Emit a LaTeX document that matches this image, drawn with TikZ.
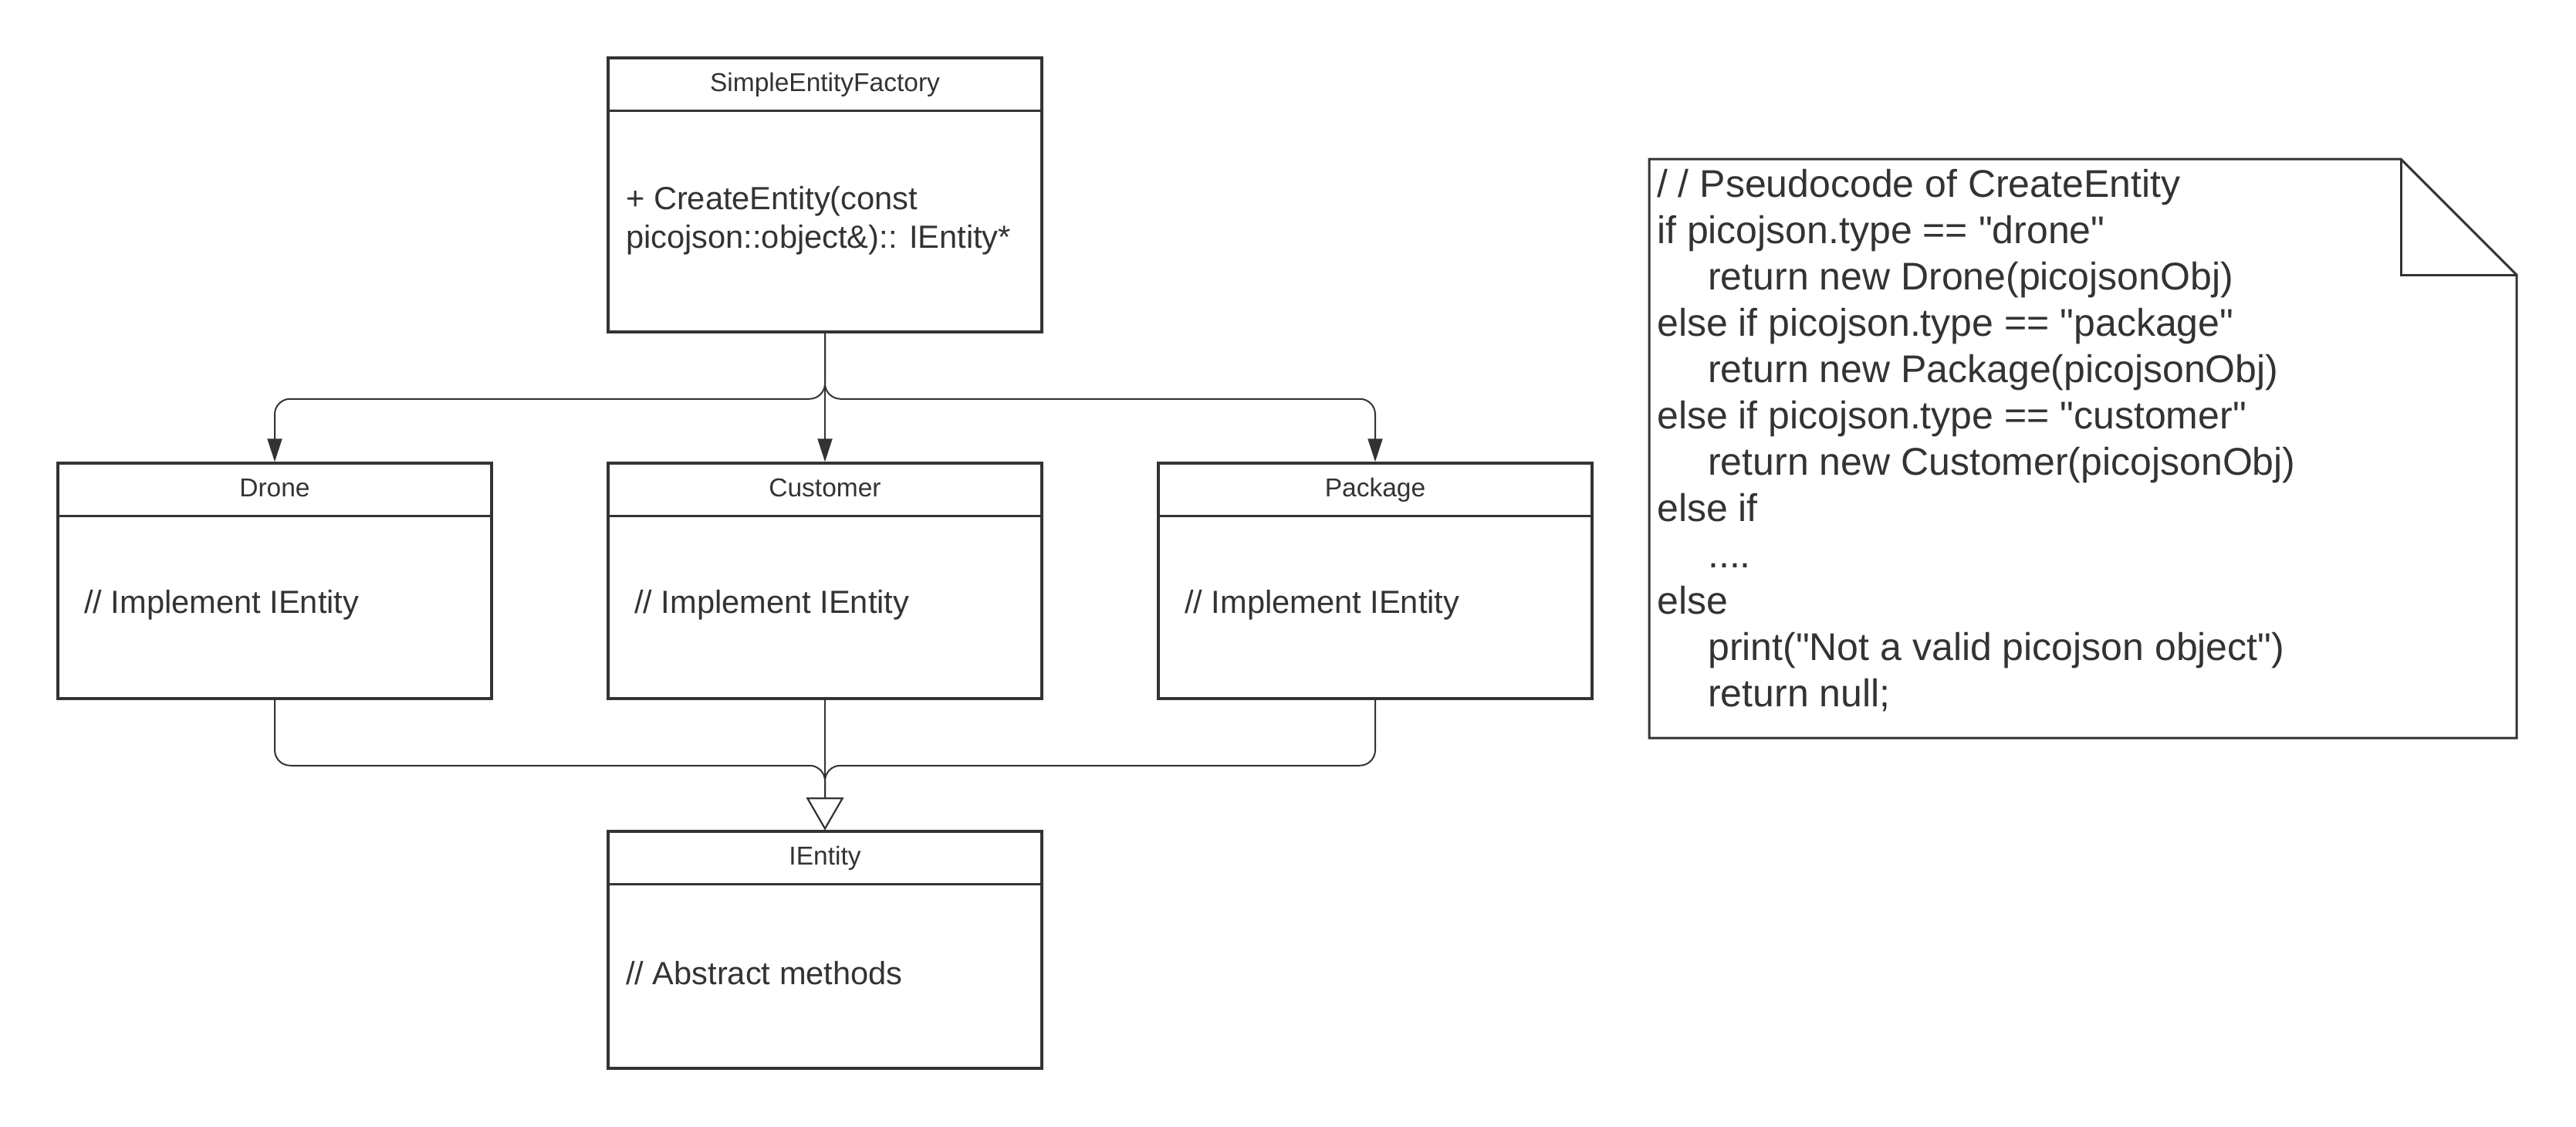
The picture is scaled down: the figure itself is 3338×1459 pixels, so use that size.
\documentclass[tikz,border=0pt]{standalone}
\usepackage{fontspec}
\setmainfont{Liberation Sans}
\usetikzlibrary{arrows.meta}
\definecolor{ink}{HTML}{333333}
\newcommand\hdrfont{\fontsize{33.5}{40}\selectfont}
\newcommand\bodyfont{\fontsize{41.6}{50}\selectfont}
\newcommand\notefont{\fontsize{50}{60}\selectfont}
\newcommand\sq{\textquotedbl}
\begin{document}
\begin{tikzpicture}[x=1pt,y=-1pt,
  classbox/.style={draw=ink, line width=3.5pt, minimum width=562pt, inner sep=0pt, fill=white},
  divider/.style={draw=ink, line width=2.5pt},
  hdr/.style={text=ink, font=\hdrfont, inner sep=0pt, anchor=base},
  bodytxt/.style={text=ink, font=\bodyfont, inner sep=0pt, anchor=west, align=left},
  conn/.style={draw=ink, line width=2pt},
  filledtip/.style={-{Triangle[length=30pt,width=19pt]}},
  opentip/.style={-{Triangle[length=42pt,width=48pt,fill=white]}},
  notetxt/.style={text=ink, font=\notefont, inner sep=0pt, anchor=base west},
  notebox/.style={draw=ink, line width=3pt, line join=miter}
]
\useasboundingbox (0,0) rectangle (3338,1459);

% classes
\node[classbox, minimum height=355pt] (top) at (1069,252.5) {};
\node[classbox, minimum height=305pt] (drone) at (356,752.5) {};
\node[classbox, minimum height=305pt] (customer) at (1069,752.5) {};
\node[classbox, minimum height=305pt] (package) at (1782,752.5) {};
\node[classbox, minimum height=307pt] (ientity) at (1069,1230.5) {};

\foreach \b in {top,drone,customer,package,ientity}
  \draw[divider] ([yshift=-70pt]\b.north west) -- ([yshift=-70pt]\b.north east);

\node[hdr] (topH) at (1069,118) {SimpleEntityFactory};
\node[hdr] (droneH) at (356,643) {Drone};
\node[hdr] (customerH) at (1069,643) {Customer};
\node[hdr] (packageH) at (1782,643) {Package};
\node[hdr] (ientityH) at (1069,1120) {IEntity};

\node[bodytxt] (topB) at (811,286) {+ CreateEntity(const\\picojson::object\&):: IEntity*};
\node[bodytxt] (droneB) at (109,784) {// Implement IEntity};
\node[bodytxt] (customerB) at (822,784) {// Implement IEntity};
\node[bodytxt] (packageB) at (1535,784) {// Implement IEntity};
\node[bodytxt] (ientityB) at (811,1261) {// Abstract methods};

% connectors from factory
\draw[conn, filledtip] (top.south) -- (customer.north);
\draw[conn, filledtip, rounded corners=20pt] (top.south) -- ++(0,85) -| (drone.north);
\draw[conn, filledtip, rounded corners=20pt] (top.south) -- ++(0,85) -| (package.north);

% generalisation
\draw[conn, opentip] (customer.south) -- (ientity.north);
\draw[conn, opentip, rounded corners=20pt] (drone.south) -- ++(0,85) -| (ientity.north);
\draw[conn, opentip, rounded corners=20pt] (package.south) -- ++(0,85) -| (ientity.north);

% note
\coordinate (nA) at (2137,206);
\coordinate (nB) at (3111,206);
\coordinate (nC) at (3261,356);
\coordinate (nD) at (3261,956);
\coordinate (nE) at (2137,956);
\coordinate (nF) at (3111,356);
\draw[notebox] (nA) -- (nB) -- (nC) -- (nD) -- (nE) -- cycle;
\draw[notebox] (nB) -- (nF) -- (nC);

\foreach \i/\ind/\t in {
  1/0/{/ / Pseudocode of CreateEntity},
  2/0/{if picojson.type == \sq drone\sq},
  3/1/{return new Drone(picojsonObj)},
  4/0/{else if picojson.type == \sq package\sq},
  5/1/{return new Package(picojsonObj)},
  6/0/{else if picojson.type == \sq customer\sq},
  7/1/{return new Customer(picojsonObj)},
  8/0/{else if},
  9/1/{....},
  10/0/{else},
  11/1/{print(\sq Not a valid picojson object\sq)},
  12/1/{return null;}}
  \node[notetxt] (note\i) at ({2147+66*\ind},{255+60*(\i-1)}) {\t};
\end{tikzpicture}
\end{document}
